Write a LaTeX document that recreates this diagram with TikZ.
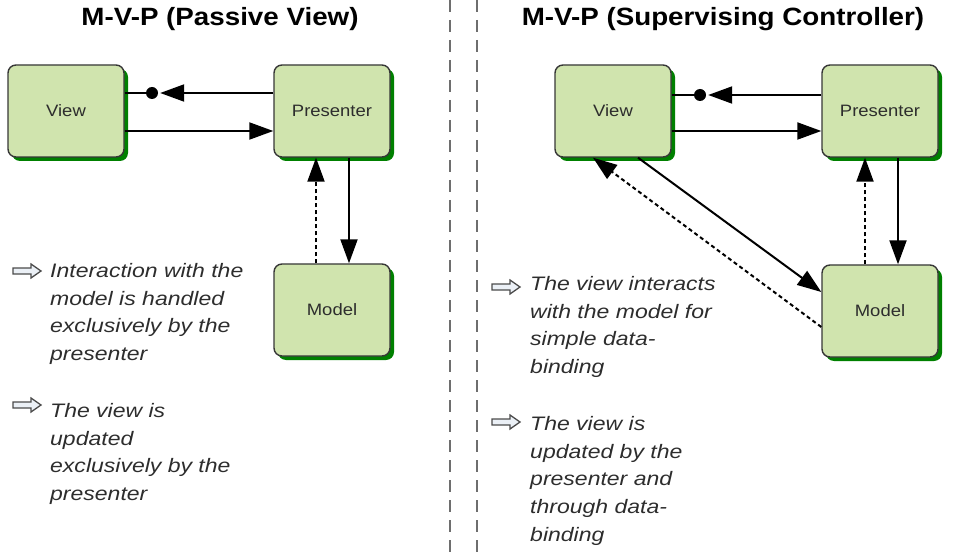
\documentclass[tikz,border=0pt]{standalone}
\usepackage{fontspec}
\setmainfont{Liberation Sans}
\newfontfamily\titlefont[FakeStretch=1.11]{Liberation Sans}
\newfontfamily\bodyfont[FakeStretch=1.18]{Liberation Sans}
\newfontfamily\boxfont[FakeStretch=1.12]{Liberation Sans}
\usetikzlibrary{arrows.meta,shadows}
\definecolor{boxfill}{RGB}{208,228,174}
\definecolor{boxline}{RGB}{55,55,55}
\definecolor{shadowgreen}{RGB}{0,128,0}
\definecolor{textgrey}{RGB}{45,45,45}
\definecolor{dividergrey}{RGB}{110,110,110}
\definecolor{bulletfill}{RGB}{235,240,246}
\definecolor{bulletline}{RGB}{75,75,75}
\tikzset{
  mvpbox/.style={draw=boxline, line width=1.4pt, fill=boxfill, rounded corners=8pt,
    minimum width=116pt, minimum height=92pt, inner sep=0pt,
    font=\boxfont\fontsize{16.5}{20}\selectfont, text=textgrey,
    drop shadow={shadow xshift=4pt, shadow yshift=-4pt, fill=shadowgreen, opacity=1}},
  titletext/.style={font=\titlefont\bfseries\fontsize{25}{30}\selectfont, text=black, inner sep=0pt},
  bodytext/.style={font=\bodyfont\itshape\fontsize{19.5}{27.8}\selectfont, text=textgrey,
    align=left, inner sep=0pt, anchor=north west},
  conn/.style={line width=2pt, draw=black},
  arr/.style={conn, -{Triangle[length=24pt,width=17pt]}},
  dasharr/.style={arr, dash pattern=on 4pt off 3pt},
  dotnode/.style={circle, fill=black, inner sep=0pt, minimum size=12pt},
  divider/.style={draw=dividergrey, line width=2.2pt, dash pattern=on 12pt off 8pt},
  bullet/.pic={
    \draw[bulletline, fill=bulletfill, line width=1.3pt, line join=miter]
      (0,-3) -- (18,-3) -- (18,-7) -- (28,0) -- (18,7) -- (18,3) -- (0,3) -- cycle;
  }
}
\begin{document}
\begin{tikzpicture}[x=1pt, y=-1pt]
\useasboundingbox (0,0) rectangle (955,553);
% dividers
\coordinate (dA1) at (450,0); \coordinate (dA2) at (450,553);
\coordinate (dB1) at (477,0); \coordinate (dB2) at (477,553);
\draw[divider] (dA1) -- (dA2);
\draw[divider] (dB1) -- (dB2);
% titles
\node[titletext, anchor=base] (titleL) at (220,26) {M-V-P (Passive View)};
\node[titletext, anchor=base] (titleR) at (723,26) {M-V-P (Supervising Controller)};
% left panel
\node[mvpbox] (VL) at (66,111) {View};
\node[mvpbox] (PL) at (332,111) {Presenter};
\node[mvpbox] (ML) at (332,310) {Model};
\node[dotnode] (dL) at (152,93) {};
\draw[conn] ([yshift=18pt]VL.east) -- (dL);
\draw[arr] ([yshift=18pt]PL.west) -- ([xshift=2pt]dL.east);
\draw[arr] ([yshift=-20pt]VL.east) -- ([yshift=-20pt]PL.west);
\draw[arr] ([xshift=17pt]PL.south) -- ([xshift=17pt]ML.north);
\draw[dasharr] ([xshift=-16pt]ML.north) -- ([xshift=-16pt]PL.south);
% left texts
\pic (bL1) at (13,271) {bullet};
\node[bodytext] (tL1) at (50,263) {Interaction with the\\model is handled\\exclusively by the\\presenter};
\pic (bL2) at (13,405) {bullet};
\node[bodytext] (tL2) at (50,403) {The view is\\updated\\exclusively by the\\presenter};
% right panel
\node[mvpbox] (VR) at (613,111) {View};
\node[mvpbox] (PR) at (880,111) {Presenter};
\node[mvpbox] (MR) at (880,311) {Model};
\node[dotnode] (dR) at (700,95) {};
\draw[conn] ([yshift=16pt]VR.east) -- (dR);
\draw[arr] ([yshift=16pt]PR.west) -- ([xshift=2pt]dR.east);
\draw[arr] ([yshift=-20pt]VR.east) -- ([yshift=-20pt]PR.west);
\draw[arr] ([xshift=18pt]PR.south) -- ([xshift=18pt]MR.north);
\draw[dasharr] ([xshift=-15pt]MR.north) -- ([xshift=-15pt]PR.south);
\draw[arr] ([xshift=25pt]VR.south) -- ([yshift=19pt]MR.west);
\draw[dasharr] ([yshift=-16pt]MR.west) -- ([xshift=-20pt]VR.south);
% right texts
\pic (bR1) at (492,287) {bullet};
\node[bodytext] (tR1) at (530,276) {The view interacts\\with the model for\\simple data-\\binding};
\pic (bR2) at (492,422) {bullet};
\node[bodytext] (tR2) at (530,416) {The view is\\updated by the\\presenter and\\through data-\\binding};
\end{tikzpicture}
\end{document}
